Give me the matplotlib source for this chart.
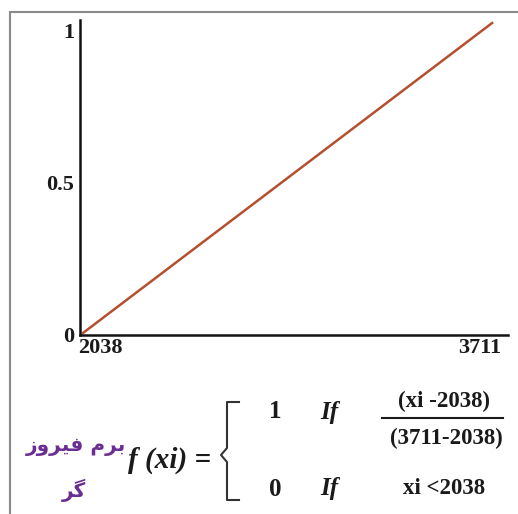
import matplotlib.pyplot as plt
import matplotlib.transforms as mtransforms
from matplotlib.lines import Line2D
from matplotlib.patches import Rectangle

# membership function: 0 at 2038 rising to 1 at 3711
x_values = [2038, 3711]
y_values = [0, 1]
x_ticks = [2038, 3711]
x_tick_labels = ['2038', '3711']
y_ticks = [0, 0.5, 1]
y_tick_labels = ['0', '0.5', '1']

# Persian caption "برم فیروز" / "گر" written in shaped (presentation) forms,
# in visual order, because matplotlib does no Arabic shaping
caption_line1 = '\uFEAF\uFEED\uFEAE\uFEF4\uFED3 \uFEE1\uFEAE\uFE91'
caption_line2 = '\uFEAE\uFB94'

W, H = 518, 514
fig = plt.figure(figsize=(W / 100, H / 100), dpi=100)
fig.patch.set_facecolor('white')


#convert pixel position of the picture to figure fraction
def px(x, y):
    return x / W, 1 - y / H


serif = 'Liberation Serif'

ax = fig.add_axes([80 / W, 1 - 335 / H, 428 / W, 315 / H])
ax.plot(x_values, y_values, color='#b4502f', lw=1.8)
ax.set_xlim(2025.7, 3776)
ax.set_ylim(-0.0065, 1.0097)
ax.spines['top'].set_visible(False)
ax.spines['right'].set_visible(False)
for s in ['left', 'bottom']:
    ax.spines[s].set_linewidth(1.8)
    ax.spines[s].set_color('#111111')
ax.set_xticks(x_ticks, x_tick_labels)
ax.set_yticks(y_ticks, y_tick_labels)
ax.tick_params(length=0, pad=2)
for lab in ax.get_xticklabels() + ax.get_yticklabels():
    lab.set_fontfamily(serif)
    lab.set_fontweight('bold')
    lab.set_fontsize(16)
    lab.set_color('#1a1a1a')

#nudge tick labels to where the picture has them (pixels)
x_shift = [17, -12]
y_shift = [-2, -5, -7]
for lab, dx in zip(ax.get_xticklabels(), x_shift):
    lab.set_transform(lab.get_transform() + mtransforms.ScaledTranslation(dx / 100, 0, fig.dpi_scale_trans))
for lab, dy in zip(ax.get_yticklabels(), y_shift):
    lab.set_transform(lab.get_transform() + mtransforms.ScaledTranslation(-3 / 100, dy / 100, fig.dpi_scale_trans))

#gray frame round the picture
fig.add_artist(Rectangle(px(10, 530), 520 / W, 518 / H, transform=fig.transFigure,
                         fill=False, edgecolor='#8a8a8a', lw=1.5))

#formula below the chart
fig.text(*px(76, 447), caption_line1, family='DejaVu Sans', fontweight='bold',
         fontsize=14.5, color='#6a2d91', ha='center', va='center')
fig.text(*px(74, 490), caption_line2, family='DejaVu Sans', fontweight='bold',
         fontsize=14.5, color='#6a2d91', ha='center', va='center')
fig.text(*px(170, 460), 'f (xi) =', family=serif, fontweight='bold', style='italic',
         fontsize=21, color='#1a1a1a', ha='center', va='center')

brace = [(239, 402), (227, 402), (227, 448), (221, 455), (227, 462), (227, 500), (239, 500)]
bx, by = zip(*[px(x, y) for x, y in brace])
fig.add_artist(Line2D(bx, by, transform=fig.transFigure, color='#333333', lw=1.5))

text_kw = dict(family=serif, fontweight='bold', color='#1a1a1a', ha='center', va='center')
fig.text(*px(275, 412), '1', fontsize=18, **text_kw)
fig.text(*px(275, 489), '0', fontsize=18, **text_kw)
fig.text(*px(329, 412), 'If', fontsize=18, style='italic', **text_kw)
fig.text(*px(329, 489), 'If', fontsize=18, style='italic', **text_kw)
fig.text(*px(444, 401), '(xi -2038)', fontsize=16.5, **text_kw)
fig.text(*px(446, 438), '(3711-2038)', fontsize=16.5, **text_kw)
fig.text(*px(444, 489), 'xi <2038', fontsize=16.5, **text_kw)

fx, fy = zip(px(382, 418), px(503, 418))
fig.add_artist(Line2D(fx, fy, transform=fig.transFigure, color='#1a1a1a', lw=1.5))

fig.savefig('out.png', dpi=100)
